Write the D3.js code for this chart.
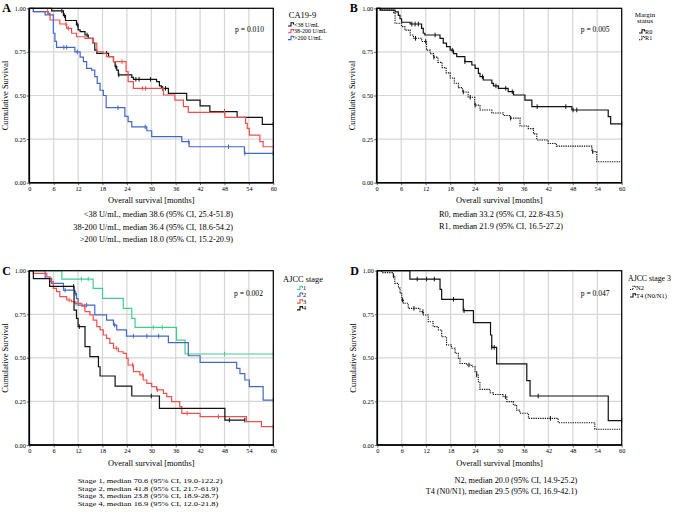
<!DOCTYPE html>
<html><head><meta charset="utf-8">
<script src="https://cdn.jsdelivr.net/npm/d3@7"></script>
<style>
body{margin:0;background:#fff}
svg{display:block}
text{font-family:"Liberation Serif","Times New Roman",serif;fill:#000}
</style>
</head><body>
<svg id="chart" width="677" height="515"></svg>
<script>
// ---------- shared axis data ----------
const xTicks = [0, 6, 12, 18, 24, 30, 36, 42, 48, 54, 60];
const yTicks = [0, 0.25, 0.5, 0.75, 1];
const yTickLabels = ["0.00", "0.25", "0.50", "0.75", "1.00"];
const xTitle = "Overall survival [months]";
const yTitle = "Cumulative Survival";

// ---------- Panel A: CA19-9 ----------
const aLowT = [0,5.5,8.4,8.9,11.6,12.0,12.5,13.7,14.5,15.7,16.1,16.6,19.5,20.7,21.1,21.5,21.9,25.2,25.6,31.3,32.0,32.5,34.2,38.7,42.0,44.4,51.1,57.3];
const aLowS = [1,0.985,0.958,0.93,0.905,0.876,0.866,0.847,0.828,0.80,0.76,0.742,0.723,0.694,0.665,0.646,0.618,0.604,0.593,0.58,0.555,0.541,0.512,0.474,0.44,0.407,0.375,0.335];
const aLowC = [8.0,8.7,11.9,14.2,19.0,21.3,22.0,26.2,27.0,29.8,32.8,33.5,48.0,60];
const aMidT = [0,1.0,4.7,5.1,7.5,9.2,10.4,11.6,13.7,15.7,16.6,18.2,19.0,20.7,23.8,24.3,25.6,33.0,35.8,37.9,39.1,48.1,53.2,53.6,54.1,56.7,57.5];
const aMidS = [1,0.981,0.971,0.933,0.91,0.885,0.857,0.837,0.828,0.80,0.751,0.74,0.723,0.694,0.637,0.579,0.541,0.503,0.474,0.436,0.403,0.375,0.34,0.312,0.273,0.235,0.206];
const aMidC = [4.5,9.0,9.6,22.8,27.8,28.6,48.0];
const aHighT = [0,1.0,3.9,5.9,6.3,6.7,11.2,12.5,13.3,14.1,15.3,16.1,16.7,17.4,18.2,18.9,23.5,24.3,25.2,28.9,30.1,37.5,39.3,52.9];
const aHighS = [1,0.981,0.962,0.857,0.81,0.776,0.75,0.72,0.694,0.656,0.646,0.608,0.57,0.53,0.50,0.43,0.38,0.35,0.32,0.298,0.264,0.235,0.206,0.168];
const aHighC = [8.5,9.2,11.8,21.8,28.5,39.2,49.0,53.0,60];
const aNames = ["<38 U/mL", "38-200 U/mL", ">200 U/mL"];
const aMedians = ["<38 U/mL, median 38.6 (95% CI, 25.4-51.8)", "38-200 U/mL, median 36.4 (95% CI, 18.6-54.2)", ">200 U/mL, median 18.0 (95% CI, 15.2-20.9)"];

// ---------- Panel B: Margin status ----------
const bR0T = [0,0.8,4.5,5.3,5.7,6.1,8.2,11.0,11.4,11.8,15.5,16.3,17.1,18.0,18.8,19.6,21.6,23.3,24.1,24.9,25.3,26.1,28.2,28.6,29.8,32.2,33.5,36.3,38.0,47.8,56.7,57.3];
const bR0S = [1,0.99,0.98,0.96,0.94,0.92,0.91,0.885,0.857,0.847,0.828,0.80,0.78,0.76,0.74,0.723,0.694,0.675,0.656,0.627,0.608,0.589,0.57,0.555,0.541,0.522,0.503,0.474,0.436,0.417,0.379,0.337];
const bR0C = [8.6,9.4,10.2,14.3,18.5,21.6,25.9,29.2,31.6,33.2,39.3,46.3,48.1,49.0,60];
const bR1T = [0,1,4.1,4.5,6.1,6.9,8.2,9.0,11.0,12.2,13.1,13.9,15,16,17,18,19,20,21,22.4,24,25.3,28.2,31,32.7,35.1,37.1,38.4,39.2,42,44,52.7,53.9];
const bR1S = [1,0.99,0.975,0.914,0.895,0.875,0.847,0.828,0.81,0.76,0.74,0.72,0.69,0.66,0.63,0.60,0.57,0.545,0.52,0.49,0.445,0.417,0.40,0.385,0.37,0.325,0.31,0.28,0.245,0.225,0.21,0.178,0.12];
const bR1C = [9.5,12.0,14.0,21.2,22.9,24.1,32.8,52.9];
const bNames = ["R0", "R1"];
const bMedians = ["R0, median 33.2 (95% CI, 22.8-43.5)", "R1, median 21.9 (95% CI, 16.5-27.2)"];

// ---------- Panel C: AJCC stage ----------
const c1T = [0,8.0,15.7,18.0,23.1,25.2,26.0,36.2,38.3];
const c1S = [1,0.952,0.899,0.841,0.784,0.727,0.675,0.602,0.522];
const c1C = [12.8,14.5,30.5,32.7,48.0,60];
const c2T = [0,3.9,5.5,8.4,11.2,11.6,12.0,16.1,19.0,20.7,21.5,23.9,34.2,39.1,42.0,51.0,51.8,53.0,54.1,57.5];
const c2S = [1,0.956,0.927,0.889,0.87,0.84,0.803,0.746,0.717,0.688,0.66,0.625,0.587,0.512,0.474,0.44,0.41,0.373,0.335,0.258];
const c2C = [8.8,11.4,14.1,21.0,25.6,28.9,31.8,60];
const c3T = [0,1.0,4.3,5.1,5.9,6.7,7.5,9.2,10.4,11.2,12.9,13.7,14.9,15.7,16.6,17.4,18.2,19.0,19.8,20.7,21.9,23.1,23.9,24.3,25.6,27.2,28.0,28.9,30.1,31.3,33.0,33.8,35.0,37.0,37.5,42.0,53.4,57.1];
const c3S = [1,0.985,0.965,0.937,0.899,0.88,0.851,0.832,0.822,0.813,0.797,0.765,0.746,0.717,0.679,0.66,0.631,0.612,0.583,0.555,0.535,0.526,0.497,0.459,0.421,0.402,0.373,0.354,0.335,0.316,0.296,0.277,0.249,0.22,0.182,0.163,0.134,0.105];
const c3C = [9.8,11.5,13.6,21.4,25.4,27.9,31.5,38.8,46.5,60];
const c4T = [0,1.0,5.0,11.0,11.6,12.0,13.7,14.9,17.0,17.4,21.1,25.2,32.0,48.1];
const c4S = [1,0.955,0.91,0.774,0.727,0.679,0.564,0.507,0.449,0.396,0.338,0.281,0.21,0.143];
const c4C = [10.9,12.3,30.0,49.2,53.0];
const cNames = ["1", "2", "3", "4"];
const cMedians = ["Stage 1, median 70.6 (95% CI, 19.0-122.2)", "Stage 2, median 41.8 (95% CI, 21.7-61.9)", "Stage 3, median 23.8 (95% CI, 18.9-28.7)", "Stage 4, median 16.9 (95% CI, 12.0-21.8)"];

// ---------- Panel D: AJCC stage 3 ----------
const dN2T = [0,1.1,3.9,4.3,5.2,5.6,6.0,6.4,7.6,10.5,11.3,12.5,13.7,15.0,15.8,17.0,18.2,19.1,19.9,20.3,21.9,23.2,24.0,24.4,24.8,25.2,27.7,28.5,30.9,31.8,33.4,34.2,35.0,37.1,44.4,53.4];
const dN2S = [1,0.989,0.97,0.927,0.9,0.87,0.832,0.813,0.784,0.765,0.746,0.707,0.679,0.66,0.621,0.574,0.555,0.526,0.497,0.468,0.459,0.449,0.421,0.402,0.363,0.319,0.30,0.29,0.277,0.249,0.229,0.2,0.182,0.153,0.128,0.09];
const dN2C = [4.0,6.2,9.0,11.2,22.5,24.4,31.5,42.5];
const dT4T = [0,8.0,15.4,15.8,21.1,23.6,27.8,28.1,29.3,36.7,37.5,56.7];
const dT4S = [1,0.952,0.893,0.836,0.771,0.702,0.631,0.56,0.465,0.369,0.281,0.14];
const dT4C = [9.8,12.1,14.0,18.7,21.3,28.1,28.7,39.5,60];
const dNames = ["N2", "T4 (N0/N1)"];
const dMedians = ["N2, median 20.0 (95% CI, 14.9-25.2)", "T4 (N0/N1), median 29.5 (95% CI, 16.9-42.1)"];

const pValues = ["p = 0.010", "p = 0.005", "p = 0.002", "p = 0.047"];

// ---------- styles ----------
const BLACK = "#111111", RED = "#f0504c", BLUE = "#4168c4", GREEN = "#3dcf90";

const panels = [
  { label: "A", box: [29.3, 273.3, 8.3, 182.7], p: pValues[0], pPos: [235, 32],
    series: [
      { t: aLowT, s: aLowS, c: aLowC, color: BLACK, end: 60, name: aNames[0] },
      { t: aMidT, s: aMidS, c: aMidC, color: RED, end: 60, name: aNames[1] },
      { t: aHighT, s: aHighS, c: aHighC, color: BLUE, end: 60, name: aNames[2] }],
    legend: { title: ["CA19-9"], titleX: 302.5, titleY: 18, titleSize: 8.5, x: 288, y0: 24.5, dy: 6.8, size: 6 },
    medians: aMedians, medAnchor: "end", medX: 233, medY0: 217, medDy: 12.6, medSize: 8.3, medSquish: 1, xTitleDy: 20 },
  { label: "B", box: [376.7, 621.7, 8.3, 182.7], p: pValues[1], pPos: [580.7, 32],
    series: [
      { t: bR0T, s: bR0S, c: bR0C, color: BLACK, end: 60, name: bNames[0] },
      { t: bR1T, s: bR1S, c: bR1C, color: BLACK, end: 60, name: bNames[1], dash: true }],
    legend: { title: ["Margin", "status"], titleX: 645, titleY: 16.5, titleDy: 6.5, titleSize: 7, x: 639, y0: 31.5, dy: 6.8, size: 6.2 },
    medians: bMedians, medAnchor: "start", medX: 439, medY0: 217, medDy: 12, medSize: 8.3, medSquish: 1, xTitleDy: 20 },
  { label: "C", box: [29.3, 273.3, 270.7, 445], p: pValues[2], pPos: [234, 295.5],
    series: [
      { t: c1T, s: c1S, c: c1C, color: GREEN, end: 60, name: cNames[0] },
      { t: c2T, s: c2S, c: c2C, color: BLUE, end: 60, name: cNames[1] },
      { t: c3T, s: c3S, c: c3C, color: RED, end: 60, name: cNames[2] },
      { t: c4T, s: c4S, c: c4C, color: BLACK, end: 53.0, name: cNames[3] }],
    legend: { title: ["AJCC stage"], titleX: 303, titleY: 281.5, titleSize: 8.4, x: 297, y0: 288, dy: 6.8, size: 6.5 },
    medians: cMedians, medAnchor: "start", medX: 77.7, medY0: 483.3, medDy: 7.5, medSize: 8.4, medSquish: 0.76, xTitleDy: 21 },
  { label: "D", box: [377.3, 621.7, 270.7, 445], p: pValues[3], pPos: [580.7, 295.5],
    series: [
      { t: dN2T, s: dN2S, c: dN2C, color: BLACK, end: 60, name: dNames[0], dash: true },
      { t: dT4T, s: dT4S, c: dT4C, color: BLACK, end: 60, name: dNames[1] }],
    legend: { title: ["AJCC stage 3"], titleX: 628, titleY: 281, titleSize: 7.8, titleAnchor: "start", x: 630, y0: 288, dy: 7.5, size: 6.5 },
    medians: dMedians, medAnchor: "end", medX: 577.3, medY0: 483, medDy: 10.5, medSize: 8.2, medSquish: 1, xTitleDy: 21 }
];

const svg = d3.select("#chart");

function survAt(t, s, time) {
  const i = d3.bisectRight(t, time) - 1;
  return s[Math.max(0, i)];
}

panels.forEach(P => {
  const [xa, xb, ya, yb] = P.box;
  const x = d3.scaleLinear().domain([0, 60]).range([xa, xb]);
  const y = d3.scaleLinear().domain([0, 1]).range([yb, ya]);
  const g = svg.append("g");

  // grid
  g.append("g").selectAll("line").data(xTicks).join("line")
    .attr("x1", d => x(d)).attr("x2", d => x(d)).attr("y1", ya).attr("y2", yb)
    .attr("stroke", "#d6d6d6").attr("stroke-width", 1.2);
  g.append("g").selectAll("line").data(yTicks).join("line")
    .attr("y1", d => y(d)).attr("y2", d => y(d)).attr("x1", xa).attr("x2", xb)
    .attr("stroke", "#d6d6d6").attr("stroke-width", 1.2);

  // axes
  const xAxis = g.append("g").attr("transform", `translate(0,${yb})`)
    .call(d3.axisBottom(x).tickValues(xTicks).tickFormat(d3.format("d")).tickSize(2.5).tickPadding(1.5));
  const yAxis = g.append("g").attr("transform", `translate(${xa},0)`)
    .call(d3.axisLeft(y).tickValues(yTicks).tickFormat((d, i) => yTickLabels[i]).tickSize(2.5).tickPadding(1));
  [xAxis, yAxis].forEach(a => {
    a.select(".domain").remove();
    a.selectAll("text").attr("font-size", 6.3).attr("font-family", "Liberation Serif").attr("fill", "#222");
    a.selectAll("line").attr("stroke", "#444").attr("stroke-width", 0.8);
  });

  // curves
  const line = d3.line().x(d => x(d[0])).y(d => y(d[1])).curve(d3.curveStepAfter);
  P.series.forEach(S => {
    const pts = S.t.map((t, i) => [t, S.s[i]]);
    pts.push([S.end, S.s[S.s.length - 1]]);
    g.append("path").attr("d", line(pts)).attr("fill", "none")
      .attr("stroke", S.color).attr("stroke-width", S.dash ? 1.1 : 1.2)
      .attr("stroke-dasharray", S.dash ? "1.3,1" : null);
    g.append("g").selectAll("line").data(S.c).join("line")
      .attr("x1", d => x(d)).attr("x2", d => x(d))
      .attr("y1", d => y(survAt(S.t, S.s, d)) - 2.3)
      .attr("y2", d => y(survAt(S.t, S.s, d)) + 2.3)
      .attr("stroke", S.color).attr("stroke-width", 1);
  });

  // frame
  g.append("rect").attr("x", xa).attr("y", ya).attr("width", xb - xa).attr("height", yb - ya)
    .attr("fill", "none").attr("stroke", "#000").attr("stroke-width", 1.2);
  g.append("line").attr("x1", xa).attr("x2", xa).attr("y1", ya).attr("y2", yb).attr("stroke", "#000").attr("stroke-width", 1.6);
  g.append("line").attr("x1", xa).attr("x2", xb).attr("y1", yb).attr("y2", yb).attr("stroke", "#000").attr("stroke-width", 1.6);

  // panel letter
  g.append("text").attr("x", xa - 27).attr("y", ya + 4).attr("font-size", 12).attr("font-weight", "bold").text(P.label);

  // p value
  g.append("text").attr("x", P.pPos[0]).attr("y", P.pPos[1]).attr("font-size", 7.6).text(P.p);

  // axis titles
  g.append("text").attr("x", (xa + xb) / 2).attr("y", yb + P.xTitleDy).attr("text-anchor", "middle")
    .attr("font-size", 8.4).text(xTitle);
  g.append("text").attr("transform", `translate(${xa - 21.5},${(ya + yb) / 2}) rotate(-90)`)
    .attr("text-anchor", "middle").attr("font-size", 8.4).text(yTitle);

  // legend
  const L = P.legend;
  L.title.forEach((tt, i) => {
    g.append("text").attr("x", L.titleX).attr("y", L.titleY + i * (L.titleDy || 0))
      .attr("text-anchor", L.titleAnchor || "middle").attr("font-size", L.titleSize).text(tt);
  });
  P.series.forEach((S, i) => {
    const yy = L.y0 + i * L.dy;
    g.append("path").attr("d", `M${L.x},${yy + 1.5}H${L.x + 3}V${yy - 1.8}H${L.x + 5.5}V${yy}`)
      .attr("fill", "none").attr("stroke", S.color).attr("stroke-width", 1.1)
      .attr("stroke-dasharray", S.dash ? "1,0.8" : null);
    g.append("text").attr("x", L.x + 6).attr("y", yy + 2).attr("font-size", L.size).text(S.name);
  });

  // medians
  P.medians.forEach((m, i) => {
    g.append("text")
      .attr("transform", `translate(${P.medX},${P.medY0 + i * P.medDy}) scale(1,${P.medSquish})`)
      .attr("text-anchor", P.medAnchor).attr("font-size", P.medSize).text(m);
  });
});
</script>
</body></html>
